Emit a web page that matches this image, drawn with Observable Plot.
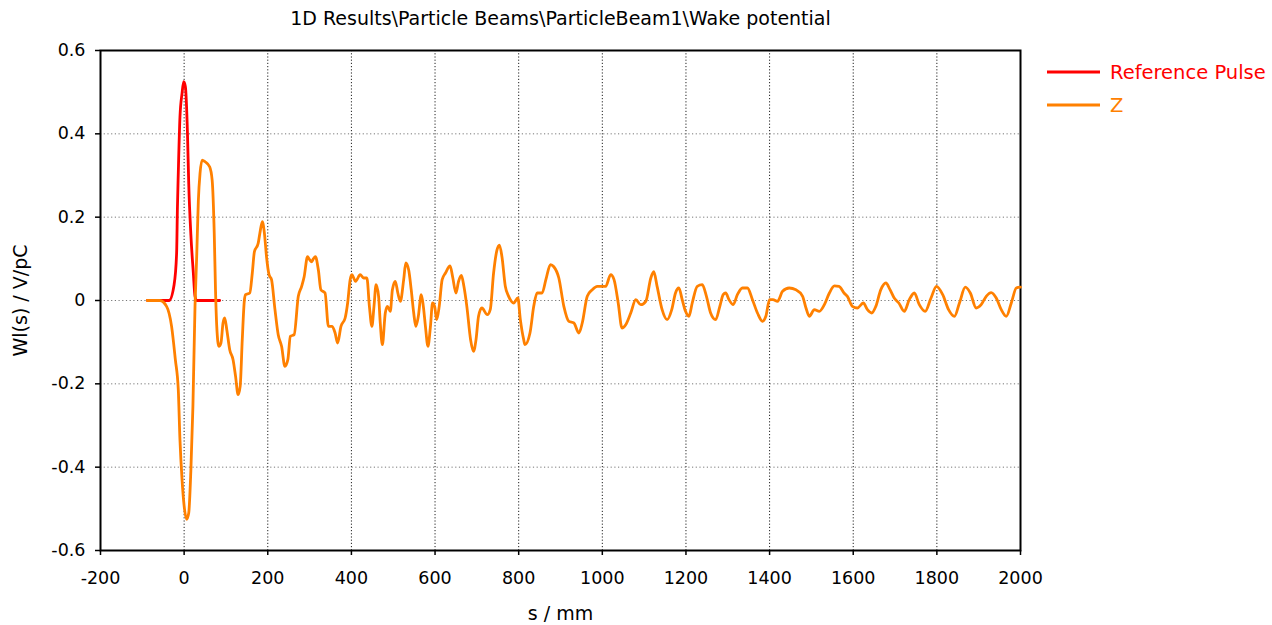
<!DOCTYPE html>
<html>
<head>
<meta charset="utf-8">
<script src="https://cdn.jsdelivr.net/npm/d3@7"></script>
<script src="https://cdn.jsdelivr.net/npm/@observablehq/plot@0.6"></script>
<style>
  html, body { margin: 0; padding: 0; background: #fff; }
  #chart { width: 1272px; height: 625px; }
</style>
</head>
<body>
<div id="chart"></div>
<script>
// ---- data ----
const title = "1D Results\\Particle Beams\\ParticleBeam1\\Wake potential";
const xLabel = "s / mm";
const yLabel = "Wl(s) / V/pC";
const seriesNames = ["Reference Pulse", "Z"];
const seriesColors = ["#ff0000", "#ff8000"];
const xTicks = [-200, 0, 200, 400, 600, 800, 1000, 1200, 1400, 1600, 1800, 2000];
const yTicks = [-0.6, -0.4, -0.2, 0, 0.2, 0.4, 0.6];

const refS = [-88, -36, -24, -18, -16, -14, -10, -5, -1, 3, 8, 11, 16, 22, 26, 30, 85];
const refW = [0, 0, 0.038, 0.113, 0.225, 0.305, 0.44, 0.497, 0.525, 0.513, 0.4, 0.28, 0.16, 0.066, 0.01, 0, 0];

const zS = [-88, -58, -42, -30, -21, -14, -10, -5, 0, 6, 11, 16, 21, 26, 30, 34, 38, 43, 50, 61, 67, 72, 75, 78, 83, 88, 93, 97, 102, 109, 117, 123, 129, 134, 139, 144, 147, 157, 163, 168, 177, 181, 187, 192, 197, 203, 209, 217, 225, 233, 241, 248, 254, 263, 273, 281, 287, 295, 300, 305, 309, 314, 321, 327, 337, 345, 354, 361, 367, 375, 385, 391, 397, 401, 410, 421, 429, 437, 443, 449, 454, 459, 465, 469, 474, 481, 486, 493, 498, 505, 511, 517, 525, 530, 537, 543, 549, 554, 560, 567, 572, 577, 583, 589, 594, 599, 604, 610, 617, 625, 636, 642, 650, 656, 663, 669, 676, 685, 692, 698, 704, 712, 725, 732, 740, 748, 754, 760, 768, 776, 788, 798, 804, 812, 815, 827, 836, 844, 856, 865, 876, 884, 896, 908, 920, 932, 944, 952, 964, 976, 988, 1000, 1008, 1020, 1028, 1038, 1047, 1056, 1068, 1080, 1092, 1104, 1116, 1123, 1131, 1143, 1155, 1166, 1175, 1183, 1191, 1199, 1207, 1215, 1227, 1239, 1249, 1259, 1271, 1281, 1289, 1295, 1303, 1313, 1323, 1335, 1347, 1359, 1371, 1383, 1391, 1400, 1408, 1419, 1431, 1447, 1463, 1479, 1487, 1495, 1507, 1519, 1531, 1543, 1555, 1566, 1578, 1586, 1598, 1610, 1624, 1634, 1644, 1654, 1666, 1678, 1688, 1698, 1709, 1722, 1734, 1746, 1758, 1772, 1786, 1799, 1814, 1828, 1842, 1854, 1868, 1880, 1894, 1906, 1918, 1930, 1942, 1954, 1966, 1978, 1990, 2000];
const zW = [0, 0, -0.014, -0.062, -0.142, -0.214, -0.334, -0.43, -0.493, -0.525, -0.51, -0.41, -0.254, -0.014, 0.105, 0.24, 0.305, 0.337, 0.333, 0.321, 0.289, 0.161, 0.026, -0.062, -0.11, -0.102, -0.054, -0.042, -0.07, -0.118, -0.142, -0.182, -0.226, -0.206, -0.094, 0, 0.014, 0.018, 0.066, 0.117, 0.137, 0.161, 0.189, 0.161, 0.105, 0.062, 0.05, -0.02, -0.082, -0.11, -0.158, -0.142, -0.086, -0.082, 0.01, 0.034, 0.057, 0.105, 0.098, 0.093, 0.1, 0.105, 0.073, 0.026, 0.018, -0.062, -0.062, -0.078, -0.102, -0.062, -0.042, -0.006, 0.05, 0.062, 0.046, 0.062, 0.054, 0.054, -0.014, -0.062, -0.014, 0.038, 0.01, -0.054, -0.106, -0.03, -0.014, -0.026, 0.026, 0.046, 0.018, -0.002, 0.05, 0.09, 0.073, 0.026, -0.03, -0.062, -0.038, 0.014, -0.014, -0.062, -0.11, -0.062, -0.006, -0.014, -0.046, -0.014, 0.05, 0.066, 0.083, 0.057, 0.018, 0.045, 0.06, 0.034, -0.014, -0.094, -0.122, -0.094, -0.038, -0.018, -0.034, -0.022, 0.066, 0.121, 0.133, 0.105, 0.034, 0.01, -0.006, 0.006, -0.046, -0.094, -0.106, -0.078, -0.014, 0.018, 0.018, 0.05, 0.086, 0.081, 0.054, -0.014, -0.05, -0.054, -0.078, -0.054, 0.01, 0.026, 0.034, 0.034, 0.034, 0.062, 0.05, -0.006, -0.066, -0.058, -0.03, 0.002, -0.01, -0.002, 0.054, 0.069, 0.034, -0.022, -0.046, -0.022, 0.018, 0.03, 0.002, -0.026, -0.038, -0.006, 0.034, 0.038, 0.01, -0.03, -0.046, -0.014, 0.014, 0.018, 0.002, -0.01, 0.014, 0.03, 0.03, 0.002, -0.03, -0.05, -0.038, 0.002, 0.002, -0.002, 0.022, 0.03, 0.026, 0.01, -0.018, -0.038, -0.022, -0.026, -0.01, 0.018, 0.035, 0.034, 0.018, 0.01, -0.014, -0.018, -0.006, -0.022, -0.03, -0.014, 0.026, 0.042, 0.026, 0.006, -0.006, -0.026, 0.002, 0.018, -0.01, -0.026, 0.006, 0.034, 0.014, -0.022, -0.038, -0.006, 0.032, 0.018, -0.018, -0.01, 0.01, 0.019, 0.006, -0.022, -0.038, -0.006, 0.03, 0.032];

// ---- build ----
const refData = refS.map((s, i) => ({s, w: refW[i]}));
const zData = zS.map((s, i) => ({s, w: zW[i]}));
const font = "'DejaVu Sans', Verdana, sans-serif";
const fmt = d => String(d);

const plot = Plot.plot({
  width: 1272,
  height: 625,
  marginLeft: 100,
  marginRight: 252,
  marginTop: 50,
  marginBottom: 75,
  style: {fontFamily: font, fontSize: "17.5px", color: "black", background: "white"},
  x: {domain: [-200, 2000], label: null},
  y: {domain: [-0.6, 0.6], label: null},
  marks: [
    Plot.gridX(xTicks, {stroke: "#222", strokeOpacity: 1, strokeDasharray: "1.2,2"}),
    Plot.gridY(yTicks, {stroke: "#777", strokeOpacity: 1, strokeDasharray: "1.2,2.5"}),
    Plot.axisX(xTicks, {tickSize: 5, tickPadding: 16, tickFormat: fmt, fontSize: 17.5, stroke: "black", strokeWidth: 1.5, label: null}),
    Plot.axisY(yTicks, {tickSize: 5, tickPadding: 10, tickFormat: fmt, fontSize: 17.5, stroke: "black", strokeWidth: 1.5, label: null}),
    Plot.frame({stroke: "black", strokeWidth: 2}),
    Plot.line(refData, {x: "s", y: "w", stroke: seriesColors[0], strokeWidth: 2.8, curve: "monotone-x"}),
    Plot.line(zData, {x: "s", y: "w", stroke: seriesColors[1], strokeWidth: 2.8, curve: "monotone-x"}),
    Plot.text([title], {frameAnchor: "top", dy: -32, textAnchor: "middle", lineAnchor: "middle", fontSize: 19, fill: "black"}),
    Plot.text([xLabel], {frameAnchor: "bottom", dy: 63, textAnchor: "middle", lineAnchor: "middle", fontSize: 19, fill: "black"}),
    Plot.text([yLabel], {frameAnchor: "left", dx: -80, rotate: -90, textAnchor: "middle", lineAnchor: "middle", fontSize: 19, fill: "black"})
  ]
});

// legend
const svg = d3.select(plot);
const lg = svg.append("g").attr("font-family", font).attr("font-size", 19.5).attr("text-anchor", "start");
seriesNames.forEach((name, i) => {
  const y = 72 + i * 33;
  lg.append("line").attr("x1", 1047).attr("x2", 1100).attr("y1", y).attr("y2", y)
    .attr("stroke", seriesColors[i]).attr("stroke-width", 2.8);
  lg.append("text").attr("x", 1110).attr("y", y).attr("dy", "0.35em")
    .attr("text-anchor", "start").attr("fill", seriesColors[i]).text(name);
});

document.getElementById("chart").appendChild(plot);
</script>
</body>
</html>
